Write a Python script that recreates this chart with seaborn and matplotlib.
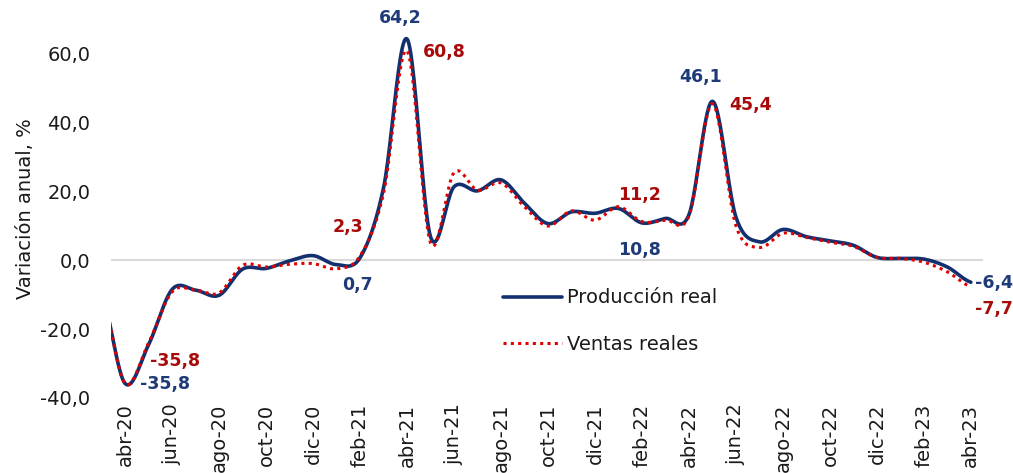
import matplotlib
matplotlib.use("Agg")
import matplotlib.pyplot as plt
import seaborn as sns
import numpy as np

meses = ["mar-20", "abr-20", "may-20", "jun-20", "jul-20", "ago-20", "sep-20", "oct-20",
         "nov-20", "dic-20", "ene-21", "feb-21", "mar-21", "abr-21", "may-21", "jun-21",
         "jul-21", "ago-21", "sep-21", "oct-21", "nov-21", "dic-21", "ene-22", "feb-22",
         "mar-22", "abr-22", "may-22", "jun-22", "jul-22", "ago-22", "sep-22", "oct-22",
         "nov-22", "dic-22", "ene-23", "feb-23", "mar-23", "abr-23"]

produccion = [-10.0, -35.8, -24.5, -8.5, -8.7, -10.2, -2.6, -2.4,
              -0.2, 1.3, -1.3, 0.7, 21.0, 64.2, 6.8, 21.3,
              20.1, 23.3, 16.5, 10.6, 14.0, 13.6, 15.0, 10.8,
              12.1, 13.2, 46.1, 12.5, 5.3, 8.9, 6.8, 5.6,
              4.3, 0.8, 0.5, 0.3, -2.0, -6.4]

ventas = [-10.0, -35.8, -24.0, -9.2, -8.7, -9.5, -1.5, -2.0,
          -1.2, -1.0, -2.5, 1.2, 19.4, 60.8, 5.0, 25.4,
          20.3, 22.4, 15.5, 9.9, 14.3, 11.6, 15.5, 11.2,
          11.6, 12.8, 45.4, 10.0, 3.7, 7.8, 6.6, 5.2,
          4.0, 0.8, 0.5, -0.6, -3.4, -7.7]

# etiquetas de datos: (mes, serie, texto)
etiquetas = [("abr-20", "prod", "-35,8"), ("abr-20", "vent", "-35,8"),
             ("feb-21", "prod", "0,7"), ("feb-21", "vent", "2,3"),
             ("abr-21", "prod", "64,2"), ("abr-21", "vent", "60,8"),
             ("feb-22", "prod", "10,8"), ("feb-22", "vent", "11,2"),
             ("may-22", "prod", "46,1"), ("may-22", "vent", "45,4"),
             ("abr-23", "prod", "-6,4"), ("abr-23", "vent", "-7,7")]

AZUL = "#13306e"
ROJO = "#e00000"
AZUL_TXT = "#1f3a78"
ROJO_TXT = "#a80a0a"


def suavizar(y, n=24):
    # curva suavizada tipo Excel (Catmull-Rom) que pasa por cada punto
    y = np.asarray(y, dtype=float)
    x = np.arange(len(y), dtype=float) - 1
    p = np.concatenate([[y[0]], y, [y[-1]]])
    xs, ys = [], []
    for i in range(len(y) - 1):
        p0, p1, p2, p3 = p[i], p[i + 1], p[i + 2], p[i + 3]
        t = np.linspace(0, 1, n, endpoint=False)
        yy = 0.5 * ((2 * p1) + (-p0 + p2) * t + (2 * p0 - 5 * p1 + 4 * p2 - p3) * t ** 2
                    + (-p0 + 3 * p1 - 3 * p2 + p3) * t ** 3)
        xs.append(x[i] + t)
        ys.append(yy)
    xs.append([x[-1]])
    ys.append([y[-1]])
    return np.concatenate(xs), np.concatenate(ys)


sns.set_style("white")
plt.rcParams["font.family"] = ["DejaVu Sans"]

fig = plt.figure(figsize=(10.13, 4.73), dpi=100)
ax = fig.add_axes([0.1096, 0.1586, 0.8604, 0.8014])

ax.axhline(0, color="#d9d9d9", lw=1.5, zorder=1)

xp, yp = suavizar(produccion)
xv, yv = suavizar(ventas)
sns.lineplot(x=xp, y=yp, ax=ax, color=AZUL, lw=2.6, label="Producción real", zorder=3)
sns.lineplot(x=xv, y=yv, ax=ax, color=ROJO, lw=2.2, linestyle=(0, (1, 1.4)),
             label="Ventas reales", zorder=4)

offsets = {
    ("abr-20", "prod"): (15, 0, "left"), ("abr-20", "vent"): (25, 23, "left"),
    ("feb-21", "prod"): (-3, -27, "center"), ("feb-21", "vent"): (-12, 29, "center"),
    ("abr-21", "prod"): (-7, 21, "center"), ("abr-21", "vent"): (16, -1, "left"),
    ("feb-22", "prod"): (-2, -27, "center"), ("feb-22", "vent"): (-2, 27, "center"),
    ("may-22", "prod"): (-12, 24, "center"), ("may-22", "vent"): (17, -1, "left"),
    ("abr-23", "prod"): (4, -1, "left"), ("abr-23", "vent"): (4, -22, "left"),
}
for mes, serie, txt in etiquetas:
    i = meses.index(mes)
    val = produccion[i] if serie == "prod" else ventas[i]
    dx, dy, ha = offsets[(mes, serie)]
    ax.annotate(txt, (i - 1, val), xytext=(dx, dy), textcoords="offset pixels",
                ha=ha, va="center", fontsize=12.5, fontweight="bold",
                color=AZUL_TXT if serie == "prod" else ROJO_TXT, zorder=5)

ticks = list(range(0, len(meses) - 1, 2))
ax.set_xticks(ticks)
ax.set_xticklabels([meses[t + 1] for t in ticks], rotation=90, fontsize=14, color="#1a1a1a")
ax.set_xlim(-0.6, 36.5)
ax.set_ylim(-40, 70)
ax.set_yticks([-40, -20, 0, 20, 40, 60])
ax.set_yticklabels(["-40,0", "-20,0", "0,0", "20,0", "40,0", "60,0"], fontsize=14, color="#1a1a1a")
ax.tick_params(axis="x", length=0, pad=4)
ax.tick_params(axis="y", length=0, pad=15)
ax.set_ylabel("Variación anual, %", fontsize=14, color="#1a1a1a", labelpad=4)

for s in ax.spines.values():
    s.set_visible(False)

leg = ax.legend(loc="upper left", bbox_to_anchor=(0.43, 0.335), frameon=False, fontsize=14,
                handlelength=3.0, handletextpad=0.3, labelspacing=1.4)
for t in leg.get_texts():
    t.set_color("#1a1a1a")

fig.savefig("out.png", dpi=100)
